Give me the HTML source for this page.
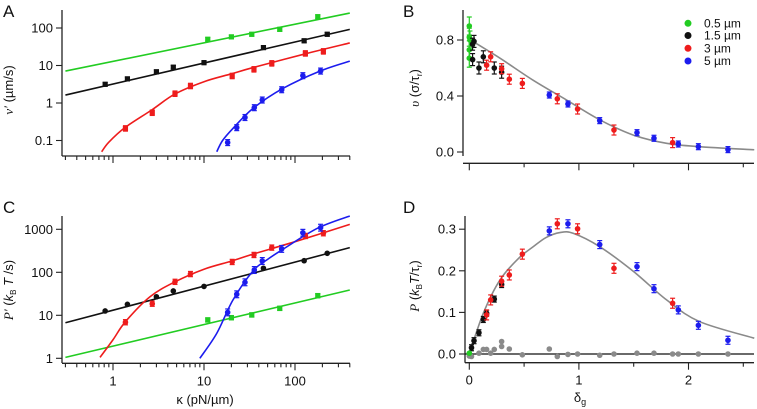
<!DOCTYPE html>
<html><head><meta charset="utf-8"><style>
html,body{margin:0;padding:0;background:#fff}
svg{display:block;font-family:"Liberation Sans",sans-serif}
</style></head><body>
<svg id="fig" width="757" height="409" viewBox="0 0 757 409" xmlns="http://www.w3.org/2000/svg">
<defs>
<clipPath id="clipA"><rect x="62" y="8" width="290" height="148"/></clipPath>
<clipPath id="clipC"><rect x="62" y="212" width="290" height="151"/></clipPath>
<clipPath id="clipB"><rect x="463" y="0" width="294" height="163"/></clipPath>
<clipPath id="clipD"><rect x="465" y="212" width="292" height="151"/></clipPath>
</defs>
<g id="labels" font-size="13" fill="#111">
<text x="3" y="17" font-size="17">A</text>
<text x="403" y="17" font-size="17">B</text>
<text x="3" y="213" font-size="17">C</text>
<text x="403" y="213" font-size="17">D</text>
<text transform="translate(13,90) rotate(-90)" text-anchor="middle"><tspan font-family="Liberation Serif" font-style="italic">v′</tspan> (µm/s)</text>
<text transform="translate(419,88) rotate(-90)" text-anchor="middle"><tspan font-family="Liberation Serif" font-style="italic">υ</tspan> (σ/τ<tspan font-size="8" dy="3">r</tspan><tspan dy="-3">)</tspan></text>
<text transform="translate(13,290) rotate(-90)" text-anchor="middle"><tspan font-family="Liberation Serif" font-style="italic">P′</tspan> (<tspan font-style="italic">k</tspan><tspan font-size="8" dy="3">B</tspan><tspan dy="-3"> </tspan><tspan font-style="italic">T</tspan> /s)</text>
<text transform="translate(419,286) rotate(-90)" text-anchor="middle"><tspan font-family="Liberation Serif" font-style="italic">P</tspan> (<tspan font-style="italic">k</tspan><tspan font-size="8" dy="3">B</tspan><tspan dy="-3" font-style="italic">T</tspan>/τ<tspan font-size="8" dy="3">r</tspan><tspan dy="-3">)</tspan></text>
<text x="205" y="404" text-anchor="middle">κ (pN/µm)</text>
<text x="580" y="402" text-anchor="middle">δ<tspan font-size="9" dy="3">g</tspan></text>
</g>
<g id="legend" font-size="12" fill="#111">
<circle cx="688" cy="23.3" r="3.5" fill="#22cc22"/><text x="704" y="27.5">0.5 µm</text>
<circle cx="688" cy="35.5" r="3.5" fill="#111"/><text x="704" y="39.5">1.5 µm</text>
<circle cx="688" cy="48.3" r="3.5" fill="#ee1c1c"/><text x="704" y="52.5">3 µm</text>
<circle cx="688" cy="61" r="3.5" fill="#1c1cee"/><text x="704" y="65">5 µm</text>
</g>
</svg>
<script>
// ---------- Panel A data (kappa, v') ----------
const aGreenK=[11,20,33.5,68,178], aGreenV=[50,58,68,92,200];
const aBlackK=[0.82,1.44,3.0,4.6,10,45,126,226], aBlackV=[3.15,4.4,6.8,9,11.9,30,45.6,68];
const aRedK=[1.37,2.7,4.8,7.1,20.4,35.4,55.6,130,205], aRedV=[0.21,0.55,1.77,2.84,5.25,7.9,11.4,21,23.8];
const aBlueK=[18.2,22.9,28.2,35.7,43.7,71.4,122,191], aBlueV=[0.088,0.22,0.41,0.75,1.2,2.26,5.35,7.1];
const aFitGreenK=[0.3,400], aFitGreenV=[7.1,250];
const aFitBlackK=[0.3,400], aFitBlackV=[1.63,92];
const aFitRedK=[0.75,0.9,1.35,2.66,4.8,10,20,34.6,135,400], aFitRedV=[0.05,0.09,0.22,0.65,1.74,3.7,6.0,8.8,21,40];
const aFitBlueK=[13.8,16,20.8,34.6,74,188,400], aFitBlueV=[0.05,0.1,0.21,0.72,2.46,7.1,13.1];
// ---------- Panel C data (kappa, P') ----------
const cGreenK=[11,20,33.5,68,178], cGreenP=[7.8,8.8,10.2,14.5,28.6];
const cBlackK=[0.82,1.44,3.0,4.6,10,45,126,226], cBlackP=[12.6,18,27,36.8,47,124,186,277];
const cRedK=[1.37,2.7,4.8,7.1,20.4,35.4,55.6,130,205], cRedP=[6.9,18.6,60,91,174,253,375,700,810];
const cBlueK=[18.2,22.9,28.2,35.7,43.7,71.4,122,191], cBlueP=[11.7,30.8,58.5,113,183,350,830,1090];
const cFitGreenK=[0.3,400], cFitGreenP=[1.05,38.7];
const cFitBlackK=[0.3,400], cFitBlackP=[6.7,375];
const cFitRedK=[0.72,1,1.37,2.55,4.8,10,20,34.6,100,400], cFitRedP=[1.05,2.7,7.1,27,60,118,182,265,515,1300];
const cFitBlueK=[9,13.8,20.8,34.6,50,74,177,400], cFitBlueP=[1,3.8,22.7,108,200,345,1060,2040];
// ---------- Panel B data (delta_g, v) ----------
const bGreenD=[0,0,0.006,0,0], bGreenV=[0.9,0.82,0.8,0.73,0.67];
const bBlackD=[0.043,0.03,0.03,0.088,0.128,0.228,0.295], bBlackV=[0.79,0.77,0.66,0.6,0.68,0.6,0.57];
const bRedD=[0.158,0.195,0.295,0.365,0.484,0.803,0.988,1.32,1.855], bRedV=[0.62,0.68,0.595,0.52,0.49,0.38,0.307,0.157,0.067];
const bBlueD=[0.73,0.9,1.19,1.53,1.685,1.907,2.09,2.36], bBlueV=[0.407,0.343,0.224,0.138,0.098,0.057,0.038,0.017];
const bFitD=[0,0.28,0.58,0.89,1.19,1.5,1.8,2.1,2.6], bFitV=[0.805,0.67,0.514,0.37,0.23,0.12,0.062,0.038,0.016];
// ---------- Panel D data (delta_g, P) ----------
const dGreenD=[0], dGreenP=[0.002];
const dBlackD=[0.02,0.043,0.088,0.128,0.158,0.228,0.295], dBlackP=[0.015,0.032,0.051,0.083,0.098,0.132,0.167];
const dRedD=[0.158,0.195,0.295,0.365,0.484,0.803,0.988,1.32,1.855], dRedP=[0.094,0.13,0.175,0.19,0.24,0.313,0.301,0.206,0.122];
const dBlueD=[0.73,0.9,1.19,1.53,1.685,1.907,2.09,2.36], dBlueP=[0.296,0.313,0.263,0.21,0.157,0.106,0.069,0.033];
const dGrayD=[0,0.02,0.088,0.128,0.158,0.195,0.228,0.295,0.295,0.365,0.484,0.73,0.803,0.9,0.988,1.19,1.32,1.53,1.685,1.855,1.907,2.09,2.36];
const dGrayP=[-0.005,-0.006,0.002,0.011,0.011,0.002,0.011,0.03,0.018,0.012,-0.002,0.012,-0.006,-0.001,0,-0.003,0,0.002,0.002,0,0,0,0];
const dFitD=[0,0.128,0.28,0.45,0.584,0.7,0.827,0.95,1.19,1.5,1.8,2.1,2.6], dFitP=[0,0.098,0.178,0.23,0.258,0.28,0.292,0.29,0.258,0.198,0.13,0.078,0.038];
// tick labels
const logTicksAY=[0.1,1,10,100], logTicksAYLabels=["0.1","1","10","100"];
const logTicksCY=[1,10,100,1000], logTicksCYLabels=["1","10","100","1000"];
const logTicksX=[1,10,100], logTicksXLabels=["1","10","100"];
const linTicksBY=[0,0.4,0.8], linTicksBYLabels=["0.0","0.4","0.8"];
const linTicksDY=[0,0.1,0.2,0.3], linTicksDYLabels=["0.0","0.1","0.2","0.3"];
const linTicksDX=[0,1,2], linTicksDXLabels=["0","1","2"];

const NS="http://www.w3.org/2000/svg";
const svg=document.getElementById('fig');
const GREEN="#22cc22", BLACK="#111", RED="#ee1c1c", BLUE="#1c1cee", GRAY="#8a8a8a";
function mk(tag,attrs,parent){const e=document.createElementNS(NS,tag);for(const k in attrs)e.setAttribute(k,attrs[k]);(parent||svg).appendChild(e);return e;}

const xLog=k=>113+91*Math.log10(k);
const yA=v=>103-37.5*Math.log10(v);
const yC=p=>358.3-43*Math.log10(p);
const xLin=d=>469.3+109.6*d;
const yB=v=>152-140*v;
const yD=p=>354-416*p;

function line(xs,ys,fx,fy,color,clip,name,w){
  const pts=xs.map((x,i)=>fx(x).toFixed(2)+','+fy(ys[i]).toFixed(2)).join(' ');
  const p=mk('polyline',{points:pts,fill:'none',stroke:color,'stroke-width':w||1.6,'clip-path':'url(#'+clip+')','stroke-linejoin':'round'});
  
  
}
function smooth(xs,ys,fx,fy,color,clip,name){
  const P=xs.map((x,i)=>[fx(x),fy(ys[i])]);
  let d='M'+P[0][0]+','+P[0][1];
  for(let i=0;i<P.length-1;i++){
    const p0=P[i-1]||P[i],p1=P[i],p2=P[i+1],p3=P[i+2]||P[i+1];
    const c1=[p1[0]+(p2[0]-p0[0])/6,p1[1]+(p2[1]-p0[1])/6];
    const c2=[p2[0]-(p3[0]-p1[0])/6,p2[1]-(p3[1]-p1[1])/6];
    d+=' C'+c1.join(',')+' '+c2.join(',')+' '+p2.join(',');
  }
  const p=mk('path',{d:d,fill:'none',stroke:color,'stroke-width':1.6,'clip-path':'url(#'+clip+')'});
  
  
}
function points(xs,ys,fx,fy,color,name,square,errFrac,errAbs){
  const g=mk('g',{});
  
  
  xs.forEach((x,i)=>{
    const cx=fx(x), cy=fy(ys[i]);
    if(errFrac||errAbs){
      let e=errAbs? errAbs : Math.abs(fy(ys[i]*(1+errFrac))-cy);
      if(e>1.5){
        mk('line',{x1:cx,x2:cx,y1:cy-e,y2:cy+e,stroke:color,'stroke-width':1.2},g);
        mk('line',{x1:cx-2.5,x2:cx+2.5,y1:cy-e,y2:cy-e,stroke:color,'stroke-width':1.2},g);
        mk('line',{x1:cx-2.5,x2:cx+2.5,y1:cy+e,y2:cy+e,stroke:color,'stroke-width':1.2},g);
      }
    }
    let m;
    if(square) m=mk('rect',{x:cx-2.6,y:cy-2.6,width:5.2,height:5.2,fill:color},g);
    else m=mk('circle',{cx:cx,cy:cy,r:2.8,fill:color},g);
    
    
  });
}
function logXAxis(y,x0,x1,labels,name){
  const g=mk('g',{});
  
  
  mk('line',{x1:x0,x2:x1,y1:y,y2:y,stroke:'#222','stroke-width':1.3},g);
  for(let dec=-1;dec<=2;dec++)for(let m=1;m<=9;m++){
    const v=m*Math.pow(10,dec), x=xLog(v);
    if(x<x0+1||x>x1+0.5)continue;
    mk('line',{x1:x,x2:x,y1:y,y2:y+(m===1?7:4),stroke:'#222','stroke-width':1.1},g);
  }
  if(labels) logTicksX.forEach((v,i)=>{const t=mk('text',{x:xLog(v),y:y+22,'text-anchor':'middle','font-size':13,fill:'#111'},g);t.textContent=logTicksXLabels[i];});
}
function yAxis(x,y0,y1,ticks,labs,fy,name){
  const g=mk('g',{});
  
  
  mk('line',{x1:x,x2:x,y1:y0,y2:y1,stroke:'#222','stroke-width':1.3},g);
  ticks.forEach((v,i)=>{const y=fy(v);
    mk('line',{x1:x-6,x2:x,y1:y,y2:y,stroke:'#222','stroke-width':1.1},g);
    const t=mk('text',{x:x-9,y:y+4.5,'text-anchor':'end','font-size':13,fill:'#111'},g);t.textContent=labs[i];});
}
function linXAxis(y,x0,x1,labels,name){
  const g=mk('g',{});
  
  
  mk('line',{x1:x0,x2:x1,y1:y,y2:y,stroke:'#222','stroke-width':1.3},g);
  for(let k=0;k<=5;k++){const x=xLin(k*0.5);if(x>x1+0.5)continue;
    mk('line',{x1:x,x2:x,y1:y,y2:y+(k%2===0?7:4),stroke:'#222','stroke-width':1.1},g);}
  if(labels) linTicksDX.forEach((v,i)=>{const t=mk('text',{x:xLin(v),y:y+22,'text-anchor':'middle','font-size':13,fill:'#111'},g);t.textContent=linTicksDXLabels[i];});
}

// ----- Panel A -----
yAxis(62,10,156,logTicksAY,logTicksAYLabels,yA,'y-axis-a');
logXAxis(156,62,350,false,'x-axis-a');
line(aFitGreenK,aFitGreenV,xLog,yA,GREEN,'clipA','fit-green-a');
line(aFitBlackK,aFitBlackV,xLog,yA,BLACK,'clipA','fit-black-a');
smooth(aFitRedK,aFitRedV,xLog,yA,RED,'clipA','fit-red-a');
smooth(aFitBlueK,aFitBlueV,xLog,yA,BLUE,'clipA','fit-blue-a');
points(aGreenK,aGreenV,xLog,yA,GREEN,'series-green-a',true,0.12);
points(aBlackK,aBlackV,xLog,yA,BLACK,'series-black-a',true,0.12);
points(aRedK,aRedV,xLog,yA,RED,'series-red-a',true,0.18);
points(aBlueK,aBlueV,xLog,yA,BLUE,'series-blue-a',false,0.2);

// ----- Panel C -----
yAxis(62,216,363,logTicksCY,logTicksCYLabels,yC,'y-axis-c');
logXAxis(363.3,62,350,true,'x-axis-c');
line(cFitGreenK,cFitGreenP,xLog,yC,GREEN,'clipC','fit-green-c');
line(cFitBlackK,cFitBlackP,xLog,yC,BLACK,'clipC','fit-black-c');
smooth(cFitRedK,cFitRedP,xLog,yC,RED,'clipC','fit-red-c');
smooth(cFitBlueK,cFitBlueP,xLog,yC,BLUE,'clipC','fit-blue-c');
points(cGreenK,cGreenP,xLog,yC,GREEN,'series-green-c',true,0.12);
points(cBlackK,cBlackP,xLog,yC,BLACK,'series-black-c',false,0.08);
points(cRedK,cRedP,xLog,yC,RED,'series-red-c',false,0.15);
points(cBlueK,cBlueP,xLog,yC,BLUE,'series-blue-c',false,0.2);

// ----- Panel B -----
yAxis(463,10,156,linTicksBY,linTicksBYLabels,yB,'y-axis-b');
linXAxis(163.3,463,754,false,'x-axis-b');
smooth(bFitD,bFitV,xLin,yB,GRAY,'clipB','fit-gray-b');
points(bGreenD,bGreenV,xLin,yB,GREEN,'series-green-b',false,0,9);
points(bBlackD,bBlackV,xLin,yB,BLACK,'series-black-b',false,0,6);
points(bRedD,bRedV,xLin,yB,RED,'series-red-b',false,0,5);
points(bBlueD,bBlueV,xLin,yB,BLUE,'series-blue-b',false,0,3);

// ----- Panel D -----
yAxis(465,216,362.7,linTicksDY,linTicksDYLabels,yD,'y-axis-d');
linXAxis(362.7,465,754,true,'x-axis-d');
const zl=mk('line',{x1:465,x2:754,y1:yD(0),y2:yD(0),stroke:'#111','stroke-width':1.2});


smooth(dFitD,dFitP,xLin,yD,GRAY,'clipD','fit-gray-d');
points(dGrayD,dGrayP,xLin,yD,GRAY,'series-gray-d',false,0,0);
points(dBlackD,dBlackP,xLin,yD,BLACK,'series-black-d',false,0,3);
points(dRedD,dRedP,xLin,yD,RED,'series-red-d',false,0,5);
points(dBlueD,dBlueP,xLin,yD,BLUE,'series-blue-d',false,0,4);
points(dGreenD,dGreenP,xLin,yD,GREEN,'series-green-d',false,0,0);
</script>
</body></html>
